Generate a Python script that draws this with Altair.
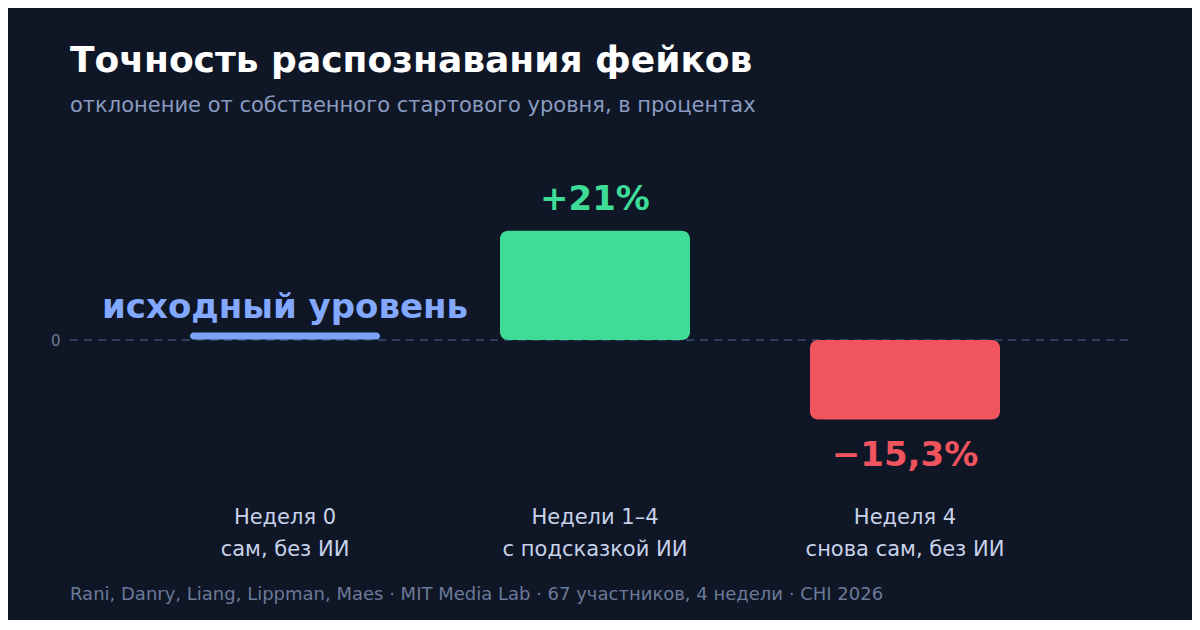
import altair as alt
import pandas as pd

# ---- data ----
categories = ["Неделя 0|сам, без ИИ", "Недели 1–4|с подсказкой ИИ", "Неделя 4|снова сам, без ИИ"]
values = [0.0, 21.0, -15.3]
value_labels = ["", "+21%", "−15,3%"]
baseline_label = "исходный уровень"
footer = "Rani, Danry, Liang, Lippman, Maes · MIT Media Lab · 67 участников, 4 недели · CHI 2026"
title = "Точность распознавания фейков"
subtitle = "отклонение от собственного стартового уровня, в процентах"

BG = "#0f1626"
GREEN = "#3ddc97"
RED = "#f0545f"
BLUE = "#7aa2f7"
FONT = "DejaVu Sans"

df = pd.DataFrame({"cat": categories, "value": values, "label": value_labels})
df["sign"] = ["base", "pos", "neg"]

xscale = alt.Scale(domain=categories, range=[120, 930], paddingInner=0.387, paddingOuter=0)
yscale = alt.Scale(domain=[-30.77, 36.54], nice=False, zero=False)

x_enc = alt.X("cat:N", scale=xscale, sort=categories,
              axis=alt.Axis(title=None, domain=False, ticks=False, labelAngle=0,
                            labelExpr="split(datum.label, '|')", labelLimit=400,
                            labelFont=FONT, labelFontSize=21, labelColor="#c8d3ea",
                            labelLineHeight=32, labelPadding=6, labelBaseline="top"))

base = alt.Chart(df)

zero_line = alt.Chart(pd.DataFrame({"z": [0]})).mark_rule(
    color="#3d4c70", strokeWidth=1.5, strokeDash=[8, 6]
).encode(
    y=alt.Y("z:Q", scale=yscale,
            axis=alt.Axis(title=None, values=[0], domain=False, ticks=False, grid=False,
                          labelFont=FONT, labelFontSize=15, labelColor="#6b7a99",
                          labelPadding=10)),
    x=alt.value(0), x2=alt.value(1058),
)

bars = base.transform_filter("datum.sign != 'base'").mark_bar(
    cornerRadius=8
).encode(
    x=x_enc,
    y=alt.Y("value:Q", scale=yscale),
    y2=alt.datum(0),
    color=alt.Color("sign:N", scale=alt.Scale(domain=["pos", "neg"], range=[GREEN, RED]), legend=None),
)

base_tick = base.transform_filter("datum.sign == 'base'").mark_tick(
    thickness=7, size=190, cornerRadius=3.5, color=BLUE, opacity=1, yOffset=-4
).encode(
    x=x_enc,
    y=alt.Y("value:Q", scale=yscale),
)

base_text = base.transform_filter("datum.sign == 'base'").mark_text(
    font=FONT, fontSize=34, fontWeight="bold", color="#82a8ff", dy=-22, baseline="alphabetic"
).encode(
    x=x_enc,
    y=alt.Y("value:Q", scale=yscale),
    text=alt.value(baseline_label),
)

pos_text = base.transform_filter("datum.sign == 'pos'").mark_text(
    font=FONT, fontSize=34, fontWeight="bold", color=GREEN, dy=-21, baseline="alphabetic"
).encode(
    x=x_enc,
    y=alt.Y("value:Q", scale=yscale),
    text="label:N",
)

neg_text = base.transform_filter("datum.sign == 'neg'").mark_text(
    font=FONT, fontSize=34, fontWeight="bold", color=RED, dy=46, baseline="alphabetic"
).encode(
    x=x_enc,
    y=alt.Y("value:Q", scale=yscale),
    text="label:N",
)

foot = alt.Chart(pd.DataFrame({"t": [footer]})).mark_text(
    font=FONT, fontSize=18, color="#6b7a99", align="left", baseline="middle"
).encode(
    x=alt.value(0), y=alt.value(445), text="t:N"
)

chart = alt.layer(zero_line, bars, base_tick, base_text, pos_text, neg_text, foot).properties(
    width=1060, height=350,
    background=BG,
    padding={"left": 62, "right": 62, "top": 142, "bottom": 120},
    autosize=alt.AutoSizeParams(type="none"),
    title=alt.TitleParams(
        text=title, subtitle=subtitle, anchor="start", frame="group",
        font=FONT, fontSize=36, fontWeight="bold", color="#ffffff",
        subtitleFont=FONT, subtitleFontSize=21, subtitleColor="#8a9bc0",
        subtitlePadding=15, offset=33,
    ),
).configure_view(stroke=None).configure_axis(grid=False)

chart.save("out.html", embed_options={"renderer": "svg", "actions": False})
